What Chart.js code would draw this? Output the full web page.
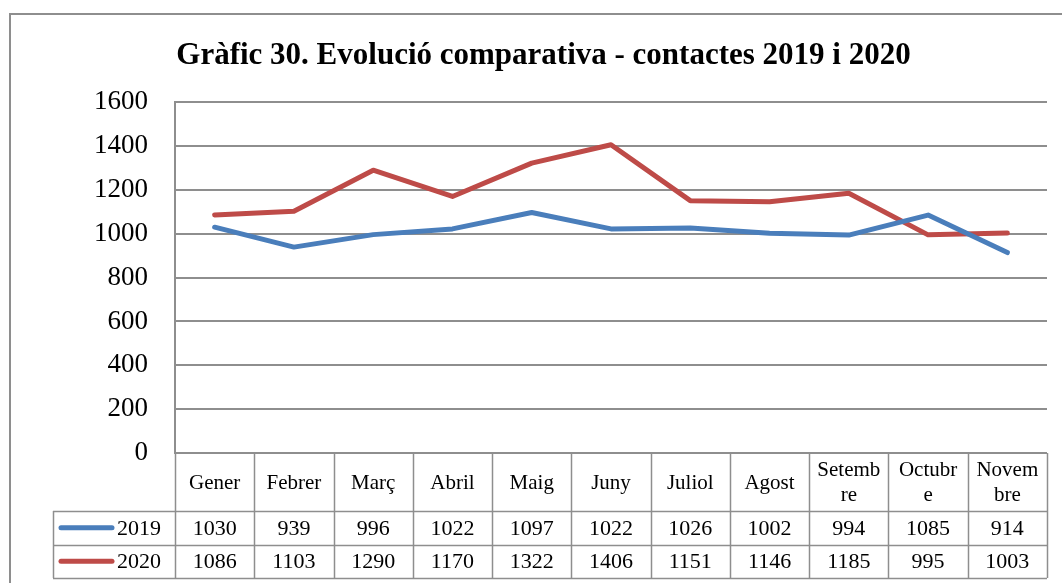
<!DOCTYPE html>
<html lang="ca">
<head>
<meta charset="UTF-8">
<title>Gràfic 30</title>
<script src="https://cdn.jsdelivr.net/npm/chart.js@4.4.0/dist/chart.umd.min.js"></script>
<style>
  body { margin: 0; background: #fff; }
  #wrap { position: relative; width: 1062px; height: 583px; }
</style>
</head>
<body>
<div id="wrap"><canvas id="chart"></canvas></div>
<script>
// data
const months = ['Gener', 'Febrer', 'Març', 'Abril', 'Maig', 'Juny', 'Juliol', 'Agost', 'Setembre', 'Octubre', 'Novembre'];
// header labels as they wrap in the table
const monthLines = [['Gener'], ['Febrer'], ['Març'], ['Abril'], ['Maig'], ['Juny'], ['Juliol'], ['Agost'], ['Setemb', 're'], ['Octubr', 'e'], ['Novem', 'bre']];
const values2019 = [1030, 939, 996, 1022, 1097, 1022, 1026, 1002, 994, 1085, 914];
const values2020 = [1086, 1103, 1290, 1170, 1322, 1406, 1151, 1146, 1185, 995, 1003];
const seriesNames = ['2019', '2020'];
const yTicks = [0, 200, 400, 600, 800, 1000, 1200, 1400, 1600];

const BLUE = '#4a7ebb';
const RED = '#be4b48';
const GRID = '#8e8e8e';
const SERIF = '"Liberation Serif", "DejaVu Serif", serif';

// outer frame of the chart object
const framePlugin = {
  id: 'frame',
  beforeDraw(chart) {
    const ctx = chart.ctx;
    ctx.save();
    ctx.fillStyle = '#fff';
    ctx.fillRect(0, 0, chart.width, chart.height);
    ctx.strokeStyle = GRID;
    ctx.lineWidth = 2;
    ctx.beginPath();
    ctx.moveTo(10, chart.height);
    ctx.lineTo(10, 14);
    ctx.lineTo(chart.width, 14);
    ctx.stroke();
    ctx.restore();
  }
};

// data table under the plot, like the Excel one
const tablePlugin = {
  id: 'dataTable',
  afterDraw(chart) {
    const ctx = chart.ctx;
    const area = chart.chartArea;
    const x = chart.scales.x;
    const colW = (area.right - area.left) / months.length;
    const headTop = area.bottom;
    const headH = 58;
    const rowH = 33.5;
    const legendLeft = 53;
    const rows = [values2019, values2020];
    const colors = [BLUE, RED];
    const tableBottom = headTop + headH + rowH * rows.length;

    ctx.save();
    ctx.strokeStyle = GRID;
    ctx.lineWidth = 1.5;
    ctx.beginPath();
    // vertical lines
    for (let i = 0; i <= months.length; i++) {
      const px = Math.round(area.left + i * colW) + 0.5;
      ctx.moveTo(px, headTop);
      ctx.lineTo(px, tableBottom);
    }
    ctx.moveTo(legendLeft + 0.5, headTop + headH);
    ctx.lineTo(legendLeft + 0.5, tableBottom);
    // horizontal lines
    for (let r = 0; r <= rows.length; r++) {
      const py = Math.round(headTop + headH + r * rowH) + 0.5;
      ctx.moveTo(legendLeft, py);
      ctx.lineTo(area.right, py);
    }
    ctx.stroke();

    ctx.fillStyle = '#000';
    ctx.textAlign = 'center';
    ctx.textBaseline = 'middle';
    months.forEach((m, i) => {
      const cx = x.getPixelForValue(i);
      const lines = monthLines[i];
      const lh = 25;
      const y0 = headTop + headH / 2 - (lines.length - 1) * lh / 2 + 1;
      ctx.font = '21px ' + SERIF;
      lines.forEach((t, k) => ctx.fillText(t, cx, y0 + k * lh));
      ctx.font = '22px ' + SERIF;
      rows.forEach((vals, r) => {
        ctx.fillText(String(vals[i]), cx, headTop + headH + r * rowH + rowH / 2 + 1);
      });
    });

    // legend keys in the first column
    rows.forEach((vals, r) => {
      const cy = headTop + headH + r * rowH + rowH / 2;
      ctx.strokeStyle = colors[r];
      ctx.lineWidth = 5;
      ctx.lineCap = 'round';
      ctx.beginPath();
      ctx.moveTo(61, cy);
      ctx.lineTo(112, cy);
      ctx.stroke();
      ctx.textAlign = 'right';
      ctx.fillStyle = '#000';
      ctx.font = '22px ' + SERIF;
      ctx.fillText(seriesNames[r], 161, cy + 1);
    });
    ctx.restore();
  }
};

new Chart(document.getElementById('chart'), {
  type: 'line',
  data: {
    labels: months,
    datasets: [
      { label: seriesNames[0], data: values2019, borderColor: BLUE, backgroundColor: BLUE },
      { label: seriesNames[1], data: values2020, borderColor: RED, backgroundColor: RED }
    ]
  },
  options: {
    responsive: true,
    maintainAspectRatio: false,
    animation: false,
    // left padding only nudges the title to where it sits in the original
    layout: { padding: { left: 40, right: 15, top: 0, bottom: 130 } },
    elements: {
      line: { borderWidth: 5, tension: 0, borderCapStyle: 'round', borderJoinStyle: 'round' },
      point: { radius: 0, hoverRadius: 0 }
    },
    plugins: {
      legend: { display: false },
      tooltip: { enabled: false },
      title: {
        display: true,
        text: 'Gràfic 30. Evolució comparativa - contactes 2019 i 2020',
        color: '#000',
        font: { family: SERIF, size: 31, weight: 'bold', lineHeight: 1.2 },
        padding: { top: 37, bottom: 28 }
      }
    },
    scales: {
      x: { display: false, offset: true },
      y: {
        min: 0,
        max: 1600,
        afterBuildTicks(scale) { scale.ticks = yTicks.map(v => ({ value: v })); },
        afterFit(scale) { scale.width = 135; },
        border: { color: GRID, width: 2 },
        grid: { color: GRID, lineWidth: 2, drawTicks: false },
        ticks: { color: '#000', padding: 27, font: { family: SERIF, size: 27 }, callback: v => String(v) }
      }
    }
  },
  plugins: [framePlugin, tablePlugin]
});
</script>
</body>
</html>
